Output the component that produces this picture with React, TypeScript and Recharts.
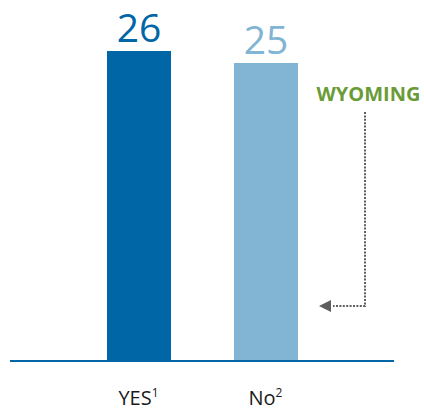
import React from 'react';
import { BarChart, Bar, XAxis, YAxis, Cell, LabelList, Customized } from 'recharts';

const DARK = '#0066A6';
const LIGHT = '#82B4D4';
const GREEN = '#6A9B37';
const ARROW = '#5E5E5E';
const FONT = '"Open Sans", "Noto Sans", sans-serif';

const categories = ['YES', 'No'];
const footnotes = ['1', '2'];
const values = [26, 25];
const colors = [DARK, LIGHT];
const annotation = 'WYOMING';

const rows = categories.map((name, i) => ({ name, note: footnotes[i], value: values[i] }));

function CategoryTick({ x, y, payload, index }: any) {
  if (x == null || y == null || !payload) return null;
  const note = footnotes[index ?? 0];
  return (
    <text x={x} y={y} dy={44} textAnchor="middle" fontSize={20} fill="#1a1a1a" fontFamily={FONT}>
      {payload.value}
      <tspan fontSize={12} dy={-8}>{note}</tspan>
    </text>
  );
}

function ValueLabel({ x, y, width, value, index }: any) {
  return (
    <text
      x={x + width / 2}
      y={y - 9}
      textAnchor="middle"
      fontSize={39}
      fill={colors[index ?? 0]}
      fontFamily={FONT}
    >
      {value}
    </text>
  );
}

function WyomingNote() {
  return (
    <g>
      <text x={368.5} y={101} textAnchor="middle" fontSize={20} fontWeight="bold" fill={GREEN} fontFamily={FONT}>
        {annotation}
      </text>
      <path
        d="M365,112 L365,306 L333,306"
        fill="none"
        stroke={ARROW}
        strokeWidth={2}
        strokeDasharray="2 1.4"
      />
      <polygon points="319,306 331,300 331,312" fill={ARROW} />
    </g>
  );
}

export default function App() {
  return (
    <div style={{ position: 'absolute', left: 0, top: 0, width: 424, height: 410, background: '#fff' }}>
      <BarChart
        width={424}
        height={410}
        data={rows}
        margin={{ top: 51, right: 30, left: 10, bottom: 0 }}
        barSize={64}
      >
        <XAxis
          dataKey="name"
          height={49}
          padding={{ left: 65, right: 65 }}
          axisLine={{ stroke: DARK, strokeWidth: 2 }}
          tickLine={false}
          tickSize={0}
          tickMargin={0}
          tick={<CategoryTick />}
          interval={0}
        />
        <YAxis hide domain={[0, 26]} />
        <Bar dataKey="value" isAnimationActive={false}>
          {rows.map((_, i) => (
            <Cell key={i} fill={colors[i]} />
          ))}
          <LabelList dataKey="value" content={<ValueLabel />} />
        </Bar>
        <Customized component={<WyomingNote />} />
      </BarChart>
    </div>
  );
}
